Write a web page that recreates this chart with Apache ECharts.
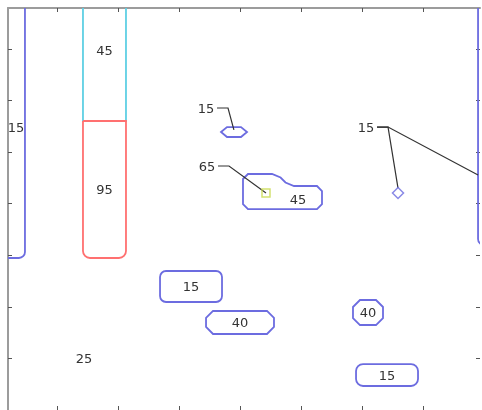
<!DOCTYPE html>
<html><head><meta charset="utf-8">
<script src="https://cdn.jsdelivr.net/npm/echarts@6/dist/echarts.min.js"></script>
<style>html,body{margin:0;padding:0;background:#fff}#c{width:482px;height:410px}</style>
</head><body><div id="c"></div>
<script>
// ---------- data (axis units) ----------
const xTicks = [1, 2, 3, 4, 5, 6, 7];
const yTicks = [1, 2, 3, 4, 5, 6, 7];
const xRange = [0.197, 7.934];
const yRange = [0, 7.791];

// rectangular regions: [xMin, yMin, xMax, yMax]
const boxValues = ['15', '15', '45', '95', '15', '40', '40', '15'];
const boxExtents = [
  [0.180, 2.946, 0.475, 8.020],
  [7.902, 3.198, 8.600, 8.600],
  [1.426, 5.601, 2.131, 8.350],
  [1.426, 2.946, 2.131, 5.601],
  [2.689, 2.093, 3.705, 2.694],
  [3.443, 1.473, 4.557, 1.919],
  [5.852, 1.647, 6.344, 2.132],
  [5.902, 0.465, 6.918, 0.891]
];

// polygon regions
const polyValues = ['45', ''];
const polyVertices = [
  [[4.049, 4.574], [4.607, 4.574], [4.803, 4.341], [5.344, 4.341], [5.344, 3.895], [4.049, 3.895]],
  [[3.689, 5.388], [3.787, 5.484], [4.016, 5.484], [4.115, 5.388], [4.016, 5.291], [3.787, 5.291]]
];
const polyLabelAt = [[4.951, 4.089], null];

// point markers
const diamondPoints = [[6.590, 4.205]];
const squarePoints = [[4.426, 4.205]];

// callout labels with leader lines
const calloutValues = ['15', '65', '15'];
const calloutAt = [[3.443, 5.853], [3.459, 4.729], [6.066, 5.484]];
const calloutTargets = [
  [[3.900, 5.430]],
  [[4.426, 4.205]],
  [[6.590, 4.300], [7.902, 4.554]]
];

// free-standing labels
const freeValues = ['25'];
const freeAt = [[1.443, 1.008]];

// ---------- styles ----------
const BLUE = '#6c6ce0', CYAN = '#5fd0e4', RED = '#ff7070', LIME = '#c8d94c';
const LW = 1.8;
const FONT = '13px "DejaVu Sans"';
const TEXT_DY = 1.5;
const boxStyles = [
  { color: BLUE, r: [0, 0, 6, 0] },
  { color: BLUE, r: [0, 0, 0, 6] },
  { color: CYAN, r: [6, 6, 0, 0] },
  { color: RED, r: [0, 0, 7, 7] },
  { color: BLUE, r: 6 },
  { color: BLUE, cut: 7 },
  { color: BLUE, cut: 7 },
  { color: BLUE, r: 7 }
];
const polyCut = [5, 0];

function chamfer(pts, c) {
  if (!c) return pts;
  const out = [];
  const n = pts.length;
  for (let i = 0; i < n; i++) {
    const p = pts[i], a = pts[(i + n - 1) % n], b = pts[(i + 1) % n];
    const da = Math.hypot(a[0] - p[0], a[1] - p[1]), db = Math.hypot(b[0] - p[0], b[1] - p[1]);
    const ca = Math.min(c, da / 2), cb = Math.min(c, db / 2);
    out.push([p[0] + (a[0] - p[0]) * ca / da, p[1] + (a[1] - p[1]) * ca / da]);
    out.push([p[0] + (b[0] - p[0]) * cb / db, p[1] + (b[1] - p[1]) * cb / db]);
  }
  return out;
}
function textEl(str, p) {
  return { type: 'text', x: p[0], y: p[1] + TEXT_DY, z2: 10,
    style: { text: str, fill: '#333', font: FONT, align: 'center', verticalAlign: 'middle' } };
}

const chart = echarts.init(document.getElementById('c'), null, { renderer: 'canvas' });
const tickStyle = { color: '#555', width: 1 };
const frameStyle = { color: '#9c9c9c', width: 2 };

chart.setOption({
  animation: false,
  backgroundColor: '#fff',
  grid: { left: 8, top: 8, width: 472, height: 402, containLabel: false },
  xAxis: [
    { type: 'value', position: 'top', min: xRange[0], max: xRange[1],
      axisLine: { show: true, onZero: false, lineStyle: frameStyle },
      axisTick: { show: true, inside: true, length: 4, customValues: xTicks, lineStyle: tickStyle },
      axisLabel: { show: false, customValues: xTicks }, splitLine: { show: false } },
    { type: 'value', position: 'bottom', min: xRange[0], max: xRange[1],
      axisLine: { show: false, onZero: false },
      axisTick: { show: true, inside: true, length: 4, customValues: xTicks, lineStyle: tickStyle },
      axisLabel: { show: false, customValues: xTicks }, splitLine: { show: false } }
  ],
  yAxis: [
    { type: 'value', position: 'left', min: yRange[0], max: yRange[1],
      axisLine: { show: true, onZero: false, lineStyle: frameStyle },
      axisTick: { show: true, inside: true, length: 4, customValues: yTicks, lineStyle: tickStyle },
      axisLabel: { show: false, customValues: yTicks }, splitLine: { show: false } },
    { type: 'value', position: 'right', min: yRange[0], max: yRange[1],
      axisLine: { show: false, onZero: false },
      axisTick: { show: true, inside: true, length: 4, customValues: yTicks, lineStyle: tickStyle },
      axisLabel: { show: false, customValues: yTicks }, splitLine: { show: false } }
  ],
  series: [
    { // rectangular regions
      type: 'custom', clip: true, silent: true,
      data: boxExtents.map((e, i) => [(e[0] + e[2]) / 2, (e[1] + e[3]) / 2, i]),
      encode: { x: 0, y: 1 },
      renderItem: function (params, api) {
        const i = api.value(2);
        const e = boxExtents[i], st = boxStyles[i];
        const tl = api.coord([e[0], e[3]]), br = api.coord([e[2], e[1]]);
        const x = tl[0], y = tl[1], w = br[0] - tl[0], h = br[1] - tl[1];
        let el;
        if (st.cut) {
          el = { type: 'polygon', shape: { points: chamfer([[x, y], [x + w, y], [x + w, y + h], [x, y + h]], st.cut) },
            style: { fill: 'none', stroke: st.color, lineWidth: LW } };
        } else {
          el = { type: 'rect', shape: { x: x, y: y, width: w, height: h, r: st.r },
            style: { fill: 'none', stroke: st.color, lineWidth: LW } };
        }
        return { type: 'group', children: [el, textEl(boxValues[i], [x + w / 2, y + h / 2])] };
      }
    },
    { // polygon regions
      type: 'custom', clip: true, silent: true,
      data: polyVertices.map((v, i) => [v[0][0], v[0][1], i]),
      encode: { x: 0, y: 1 },
      renderItem: function (params, api) {
        const i = api.value(2);
        const pts = polyVertices[i].map(p => api.coord(p));
        const children = [{ type: 'polygon', shape: { points: chamfer(pts, polyCut[i]) },
          style: { fill: 'none', stroke: BLUE, lineWidth: LW } }];
        if (polyLabelAt[i] && polyValues[i]) children.push(textEl(polyValues[i], api.coord(polyLabelAt[i])));
        return { type: 'group', children: children };
      }
    },
    { // callouts
      type: 'custom', clip: true, silent: true, z: 3,
      data: calloutAt.map((p, i) => [p[0], p[1], i]),
      encode: { x: 0, y: 1 },
      renderItem: function (params, api) {
        const i = api.value(2);
        const c = api.coord(calloutAt[i]);
        const start = [c[0] + 11, c[1]], elbow = [c[0] + 22, c[1]];
        const children = [textEl(calloutValues[i], c)];
        calloutTargets[i].forEach(t => {
          children.push({ type: 'polyline', shape: { points: [start, elbow, api.coord(t)] },
            style: { fill: null, stroke: '#333', lineWidth: 1.2 } });
        });
        return { type: 'group', children: children };
      }
    },
    { // free labels
      type: 'custom', clip: true, silent: true,
      data: freeAt.map((p, i) => [p[0], p[1], i]),
      encode: { x: 0, y: 1 },
      renderItem: function (params, api) {
        const i = api.value(2);
        return textEl(freeValues[i], api.coord(freeAt[i]));
      }
    },
    { type: 'scatter', silent: true, z: 4, data: diamondPoints, symbol: 'diamond', symbolSize: [11, 11],
      itemStyle: { color: '#fff', borderColor: BLUE, borderWidth: 1.5 } },
    { type: 'scatter', silent: true, z: 4, data: squarePoints, symbol: 'rect', symbolSize: 8,
      itemStyle: { color: 'rgba(255,255,255,0)', borderColor: LIME, borderWidth: 1.5 } }
  ]
});
</script>
</body></html>
